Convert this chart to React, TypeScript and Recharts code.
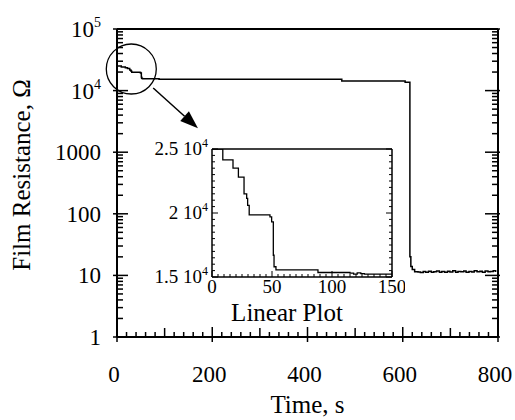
import React from 'react';
import { LineChart, Line, XAxis, YAxis, ReferenceLine, ReferenceDot } from 'recharts';

// early part of the run (the steps that the inset zooms into)
const insetTime = [0, 9, 17.5, 22, 26.7, 28.9, 29.7, 31, 48.3, 49.7, 51.1, 51.7, 53.3, 88.3, 115, 118, 121, 124, 127, 150];
const insetR = [25000, 24150, 23500, 22800, 21500, 21150, 20600, 19850, 19700, 19300, 16700, 15800, 15550, 15350, 15300, 15220, 15320, 15260, 15230, 15230];

// rest of the run, log plot
const laterTime = [
  472, 605, 615, 617, 620, 625, 632, 637, 643, 648, 654, 660, 665, 671, 677, 682, 688, 694, 699, 705,
  711, 716, 722, 728, 733, 739, 745, 750, 756, 762, 767, 773, 779, 784, 790, 795,
];
const laterR = [
  14300, 13600, 20, 14, 12.5, 11.5, 11.4, 11.1, 11.6, 11.3, 11.7, 11.2, 11.5, 11.8, 11.3, 11.6, 11.2, 11.7, 11.4, 11.9,
  11.3, 11.6, 11.5, 11.8, 11.2, 11.6, 11.4, 11.9, 11.5, 11.7, 11.3, 11.8, 11.5, 11.6, 11.9, 11.4,
];

const decades = [1, 10, 100, 1000, 10000, 100000];
const decadeBase = ['1', '10', '100', '1000', '10', '10'];
const decadeExp = ['', '', '', '', '4', '5'];
const minorSteps = [2, 3, 4, 5, 6, 7, 8, 9];

const timeLabels = [0, 200, 400, 600, 800];
const insetTimeLabels = [0, 50, 100, 150];
const insetRLabels = [15000, 20000, 25000];
const insetRMantissa = ['1.5', '2', '2.5'];

// annotation: circle around the early region + arrow to the inset
const circleAt = { t: 30, r: 22400 };
const arrowFrom = { t: 76, r: 11000 };
const arrowTo = { t: 170, r: 2450 };

const mainData = [...insetTime, ...laterTime].map((t, i) => ({ t, r: [...insetR, ...laterR][i] }));
const insetData = insetTime.map((t, i) => ({ t, r: insetR[i] }));

const logTicks = decades.flatMap((d) => (d === 100000 ? [d] : [d, ...minorSteps.map((m) => m * d)]));
const timeTicks = Array.from({ length: 41 }, (_, i) => i * 20);
const insetTimeTicks = Array.from({ length: 31 }, (_, i) => i * 5);
const insetRTicks = Array.from({ length: 21 }, (_, i) => 15000 + i * 500);

const FONT = '"Liberation Serif", "Times New Roman", serif';

const MainXTick = ({ x, y, payload }: any) => {
  const v = payload.value;
  const major = timeLabels.includes(v);
  const hundred = v % 100 === 0;
  return (
    <g>
      <line x1={x} x2={x} y1={major ? y - 10 : hundred ? y - 9 : y - 5} y2={major ? y + 5 : y} stroke="#000" strokeWidth={1.5} />
      {major && (
        <text x={x - 3} y={y + 45} textAnchor="middle" fontSize={23} fontFamily={FONT} fill="#000">
          {v}
        </text>
      )}
    </g>
  );
};

const MainYTick = ({ x, y, payload }: any) => {
  const idx = decades.indexOf(payload.value);
  const major = idx >= 0;
  return (
    <g>
      <line x1={major ? x - 4 : x} x2={major ? x + 11 : x + 6} y1={y} y2={y} stroke="#000" strokeWidth={1.5} />
      {major && (
        <text x={x - 16} y={y} dy="0.35em" textAnchor="end" fontSize={23} fontFamily={FONT} fill="#000">
          {decadeBase[idx]}
          {decadeExp[idx] && (
            <tspan dy={-10} fontSize={14}>
              {decadeExp[idx]}
            </tspan>
          )}
        </text>
      )}
    </g>
  );
};

const MainRightTick = ({ x, y, payload }: any) => {
  const major = decades.includes(payload.value);
  return <line x1={major ? x - 13 : x - 6} x2={major ? x + 2 : x} y1={y} y2={y} stroke="#000" strokeWidth={1.5} />;
};

const InsetXTick = ({ x, y, payload }: any) => {
  const v = payload.value;
  const major = insetTimeLabels.includes(v);
  return (
    <g>
      <line x1={x} x2={x} y1={major ? y - 6 : y - 3} y2={y} stroke="#000" strokeWidth={1} />
      {major && (
        <text x={x} y={y + 16} textAnchor="middle" fontSize={19} fontFamily={FONT} fill="#000">
          {v}
        </text>
      )}
    </g>
  );
};

const InsetYTick = ({ x, y, payload }: any) => {
  const idx = insetRLabels.indexOf(payload.value);
  const major = idx >= 0;
  return (
    <g>
      <line x1={x} x2={major ? x + 6 : x + 3} y1={y} y2={y} stroke="#000" strokeWidth={1} />
      {major && (
        <text x={x - 4} y={y} dy="0.3em" textAnchor="end" fontSize={19} fontFamily={FONT} fill="#000">
          {insetRMantissa[idx]} 10
          <tspan dy={-8} fontSize={12}>
            4
          </tspan>
        </text>
      )}
    </g>
  );
};

const InsetRightTick = ({ x, y, payload }: any) => {
  const major = insetRLabels.includes(payload.value);
  return <line x1={major ? x - 6 : x - 3} x2={x} y1={y} y2={y} stroke="#000" strokeWidth={1} />;
};

const TimeCaption = ({ viewBox }: any) => (
  <text x={viewBox.x + viewBox.width / 2} y={viewBox.y + 76} textAnchor="middle" fontSize={25} fontFamily={FONT} fill="#000">
    Time, s
  </text>
);

const ResistanceCaption = ({ viewBox }: any) => {
  const cx = 30;
  const cy = viewBox.y + viewBox.height / 2 - 8;
  return (
    <text x={cx} y={cy} transform={`rotate(-90 ${cx} ${cy})`} textAnchor="middle" fontSize={25} fontFamily={FONT} fill="#000">
      Film Resistance, Ω
    </text>
  );
};

const InsetCaption = ({ viewBox }: any) => (
  <text x={viewBox.x + viewBox.width / 2 - 15} y={viewBox.y + 44} textAnchor="middle" fontSize={25} fontFamily={FONT} fill="#000">
    Linear Plot
  </text>
);

const Arrow = (props: any) => {
  const { x1, y1, x2, y2 } = props;
  const ang = Math.atan2(y2 - y1, x2 - x1);
  const len = 18;
  const half = 6.5;
  const bx = x2 - len * Math.cos(ang);
  const by = y2 - len * Math.sin(ang);
  const px = -Math.sin(ang) * half;
  const py = Math.cos(ang) * half;
  return (
    <g>
      <line x1={x1} y1={y1} x2={bx} y2={by} stroke="#000" strokeWidth={1.5} />
      <polygon points={`${x2},${y2} ${bx + px},${by + py} ${bx - px},${by - py}`} fill="#000" />
    </g>
  );
};

const App: React.FC = () => {
  return (
    <div style={{ position: 'absolute', left: 0, top: 0, width: 515, height: 420, background: '#fff', fontFamily: FONT }}>
      <LineChart width={515} height={420} data={mainData} margin={{ top: 29, right: 0, bottom: 0, left: 0 }}>
        <XAxis
          dataKey="t"
          type="number"
          domain={[0, 800]}
          ticks={timeTicks}
          interval={0}
          tickSize={0}
          tickMargin={0}
          tickLine={false}
          tick={<MainXTick />}
          height={83}
          axisLine={{ stroke: '#000', strokeWidth: 2 }}
          label={<TimeCaption />}
        />
        <YAxis
          type="number"
          scale="log"
          domain={[1, 100000]}
          allowDataOverflow
          ticks={logTicks}
          interval={0}
          tickSize={0}
          tickMargin={0}
          tickLine={false}
          tick={<MainYTick />}
          width={117}
          axisLine={{ stroke: '#000', strokeWidth: 2 }}
          label={<ResistanceCaption />}
        />
        <YAxis
          yAxisId="right"
          orientation="right"
          type="number"
          scale="log"
          domain={[1, 100000]}
          allowDataOverflow
          ticks={logTicks}
          interval={0}
          tickSize={0}
          tickMargin={0}
          tickLine={false}
          tick={<MainRightTick />}
          width={17}
          axisLine={{ stroke: '#000', strokeWidth: 2 }}
        />
        <ReferenceLine y={100000} stroke="#000" strokeWidth={2} />
        <Line
          type="stepAfter"
          dataKey="r"
          stroke="#000"
          strokeWidth={1.5}
          dot={false}
          isAnimationActive={false}
        />
        <ReferenceDot x={circleAt.t} y={circleAt.r} r={25} fill="none" stroke="#000" strokeWidth={1.3} ifOverflow="visible" />
        <ReferenceLine
          segment={[
            { x: arrowFrom.t, y: arrowFrom.r },
            { x: arrowTo.t, y: arrowTo.r },
          ]}
          ifOverflow="visible"
          shape={Arrow}
        />
      </LineChart>

      <div style={{ position: 'absolute', left: 130, top: 135 }}>
        <LineChart width={275} height={200} data={insetData} margin={{ top: 14, right: 0, bottom: 0, left: 0 }}>
          <XAxis
            dataKey="t"
            type="number"
            domain={[0, 150]}
            ticks={insetTimeTicks}
            interval={0}
            tickSize={0}
            tickMargin={0}
            tickLine={false}
            tick={<InsetXTick />}
            height={58}
            axisLine={{ stroke: '#000', strokeWidth: 1.5 }}
            label={<InsetCaption />}
          />
          <YAxis
            type="number"
            domain={[15000, 25000]}
            allowDataOverflow
            ticks={insetRTicks}
            interval={0}
            tickSize={0}
            tickMargin={0}
            tickLine={false}
            tick={<InsetYTick />}
            width={82}
            axisLine={{ stroke: '#000', strokeWidth: 1.5 }}
          />
          <YAxis
            yAxisId="right"
            orientation="right"
            type="number"
            domain={[15000, 25000]}
            allowDataOverflow
            ticks={insetRTicks}
            interval={0}
            tickSize={0}
            tickMargin={0}
            tickLine={false}
            tick={<InsetRightTick />}
            width={13}
            axisLine={{ stroke: '#000', strokeWidth: 1.5 }}
          />
          <ReferenceLine y={25000} stroke="#000" strokeWidth={1.5} />
          <Line
            type="stepAfter"
            dataKey="r"
            stroke="#000"
            strokeWidth={1.3}
            dot={false}
            isAnimationActive={false}
          />
        </LineChart>
      </div>
    </div>
  );
};

export default App;
